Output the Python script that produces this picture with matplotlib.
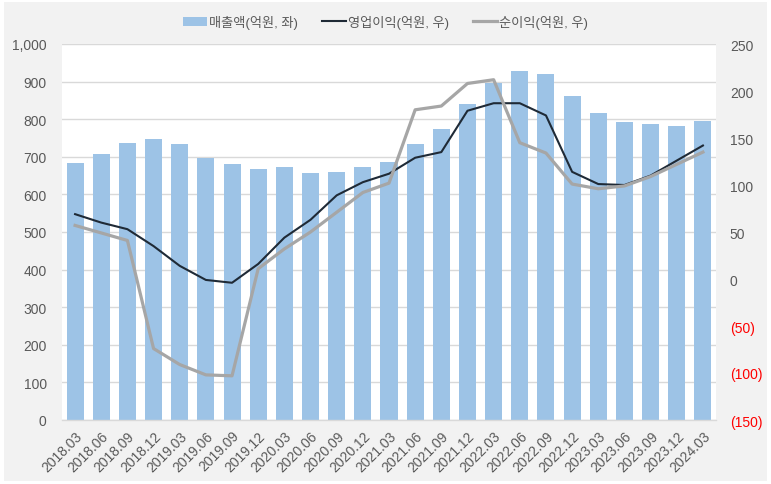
import matplotlib
matplotlib.use("Agg")
import matplotlib.pyplot as plt
from matplotlib.patches import Rectangle
from matplotlib.ticker import FuncFormatter, MultipleLocator
import numpy as np

quarters = ["2018.03", "2018.06", "2018.09", "2018.12", "2019.03", "2019.06", "2019.09", "2019.12",
            "2020.03", "2020.06", "2020.09", "2020.12", "2021.03", "2021.06", "2021.09", "2021.12",
            "2022.03", "2022.06", "2022.09", "2022.12", "2023.03", "2023.06", "2023.09", "2023.12",
            "2024.03"]
revenue = [684, 707, 737, 747, 734, 697, 681, 667, 673, 657, 660, 673, 686, 734, 774, 840,
           897, 928, 920, 862, 816, 793, 787, 782, 795]
op_profit = [69, 60, 53, 35, 14, -1, -4, 16, 44, 63, 89, 103, 112, 129, 135, 179,
             187, 187, 174, 114, 101, 100, 110, 126, 142]
net_profit = [57, 49, 41, -74, -91, -102, -103, 11, 32, 50, 71, 92, 102, 180, 184, 208,
              212, 145, 134, 101, 96, 99, 109, 122, 135]

labels = ["매출액(억원, 좌)", "영업이익(억원, 우)", "순이익(억원, 우)"]

plt.rcParams['font.family'] = ['Liberation Sans', 'Noto Sans CJK KR', 'DejaVu Sans']

W, H = 771, 485
fig = plt.figure(figsize=(W / 100, H / 100), dpi=100, facecolor="white")
fig.patches.append(Rectangle((4 / W, 3 / H), 763 / W, 479 / H, transform=fig.transFigure,
                             facecolor="#f2f2f2", edgecolor="none", zorder=-10))

ax = fig.add_axes([62 / W, (H - 421) / H, (716 - 62) / W, (421 - 45) / H])
ax.set_facecolor("white")
x = np.arange(len(quarters))
bars = ax.bar(x, revenue, width=0.65, color="#9dc3e6", zorder=2, label=labels[0])
ax.set_xlim(-0.5, len(quarters) - 0.5)
ax.set_ylim(0, 1000)
ax.yaxis.set_major_locator(MultipleLocator(100))
ax.yaxis.set_major_formatter(FuncFormatter(lambda v, p: f"{int(v):,}"))
ax.grid(axis="y", color="#d9d9d9", linewidth=1.0, zorder=0)
ax.set_axisbelow(True)
for s in ["top", "right", "left"]:
    ax.spines[s].set_visible(False)
ax.spines["bottom"].set_color("#d9d9d9")
ax.spines["bottom"].set_linewidth(1.0)
ax.tick_params(axis="both", length=0, colors="#595959", labelsize=10)
ax.tick_params(axis="y", pad=11)
ax.set_xticks(x)
ax.set_xticklabels(quarters, rotation=45, ha="right", rotation_mode="anchor")
ax.tick_params(axis="x", pad=6)

ax2 = ax.twinx()
l1, = ax2.plot(x, op_profit, color="#1f2a36", linewidth=1.5, zorder=3, label=labels[1])
l2, = ax2.plot(x, net_profit, color="#a6a6a6", linewidth=2.3, zorder=3, label=labels[2])
ax2.set_ylim(-150, 250)
ax2.yaxis.set_major_locator(MultipleLocator(50))


def rfmt(v, p):
    v = int(round(v))
    return f"({abs(v)})" if v < 0 else f"{v}"


ax2.yaxis.set_major_formatter(FuncFormatter(rfmt))
for s in ax2.spines.values():
    s.set_visible(False)
ax2.tick_params(axis="y", length=0, colors="#595959", labelsize=10, pad=10)
for t, v in zip(ax2.get_yticklabels(), ax2.get_yticks()):
    if v < 0:
        t.set_color("#ff0000")
ax2.set_zorder(ax.get_zorder() + 1)
ax2.patch.set_visible(False)

fig.legend(handles=[bars, l1, l2], labels=labels, loc="center", bbox_to_anchor=(0.5, 1 - 23 / H),
           ncol=3, frameon=False, fontsize=9.5, handlelength=1.8, handletextpad=0.2,
           columnspacing=1.8, labelcolor="#595959")

fig.savefig("out.png", dpi=100, facecolor=fig.get_facecolor())
